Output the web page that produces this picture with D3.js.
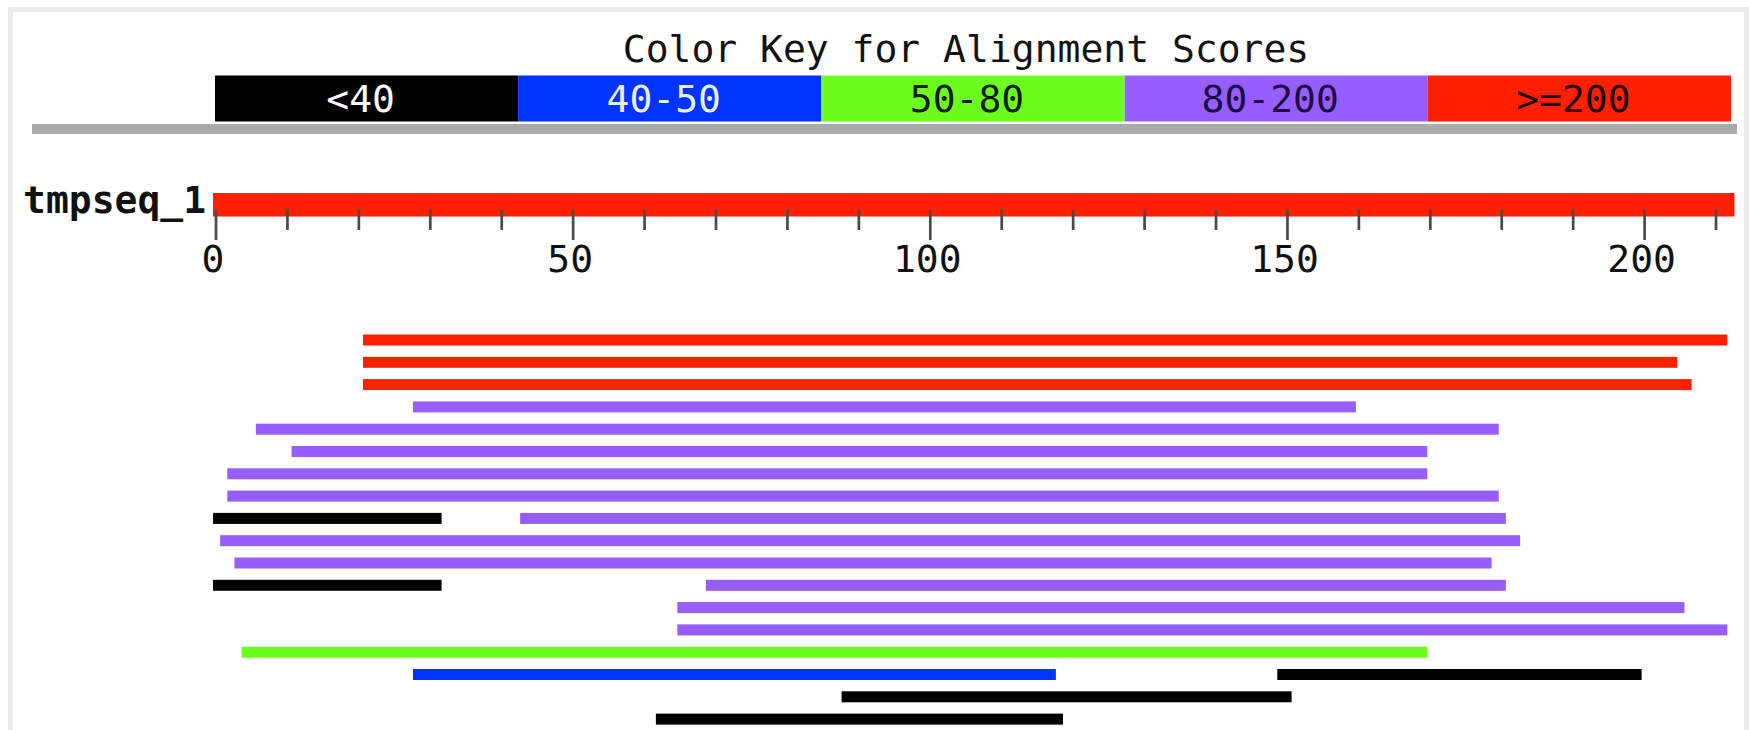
<!DOCTYPE html>
<html>
<head>
<meta charset="utf-8">
<script src="https://cdn.jsdelivr.net/npm/d3@7/dist/d3.min.js"></script>
<style>
  html, body { margin: 0; padding: 0; background: #ffffff; }
  svg { display: block; }
  text { font-family: "DejaVu Sans Mono", "Liberation Mono", monospace; }
</style>
</head>
<body>
<div id="chart"></div>
<script>
// Score bins of the colour key
const keyLabels     = ["<40", "40-50", "50-80", "80-200", ">=200"];
const keyColors     = ["#000000", "#0033ff", "#6cff1e", "#965eff", "#ff2000"];
const keyTextColors = ["#ffffff", "#e8eeff", "#0a1a00", "#1a0a40", "#200000"];

// Query sequence
const queryName = "tmpseq_1";
const queryLength = 213;
const tickValues = [0, 10, 20, 30, 40, 50, 60, 70, 80, 90, 100, 110, 120, 130, 140, 150, 160, 170, 180, 190, 200, 210];
const tickLabels = [0, 50, 100, 150, 200];

// Alignment hits: row, query start, query end, score bin (index into keyLabels)
const hitRow   = [0,   1,   2,   3,   4,   5,   6,   7,   8,   8,   9,   10,  11,  11,  12,  13,  14,  15,  15,  16,  17];
const hitStart = [21,  21,  21,  28,  6,   11,  2,   2,   0,   43,  1,   3,   0,   69,  65,  65,  4,   28,  149, 88,  62];
const hitEnd   = [212, 205, 207, 160, 180, 170, 170, 180, 32,  181, 183, 179, 32,  181, 206, 212, 170, 118, 200, 151, 119];
const hitBin   = [4,   4,   4,   3,   3,   3,   3,   3,   0,   3,   3,   3,   0,   3,   3,   3,   2,   1,   0,   0,   0];

const W = 1749, H = 730;
const svg = d3.select("#chart").append("svg")
  .attr("width", W).attr("height", H);

svg.append("rect").attr("width", W).attr("height", H).attr("fill", "#ffffff");

// outer frame
svg.append("rect")
  .attr("x", 10.5).attr("y", 9.5)
  .attr("width", 1736).attr("height", 900)
  .attr("fill", "none").attr("stroke", "#ebebeb").attr("stroke-width", 5);

const fontSize = 38;

// title
svg.append("text")
  .attr("x", 966).attr("y", 62)
  .attr("text-anchor", "middle")
  .attr("font-size", fontSize)
  .attr("fill", "#111")
  .text("Color Key for Alignment Scores");

// colour key
const keyX = d3.scaleBand().domain(keyLabels).range([215, 1731]);
const keyG = svg.append("g");
keyG.selectAll("rect").data(keyLabels).join("rect")
  .attr("x", d => keyX(d))
  .attr("y", 75.5)
  .attr("width", keyX.bandwidth())
  .attr("height", 46)
  .attr("fill", (d, i) => keyColors[i]);
keyG.selectAll("text").data(keyLabels).join("text")
  .attr("x", d => keyX(d) + keyX.bandwidth() / 2 - 6)
  .attr("y", 112)
  .attr("text-anchor", "middle")
  .attr("font-size", fontSize)
  .attr("fill", (d, i) => keyTextColors[i])
  .text(d => d);

// separator under the key
svg.append("rect")
  .attr("x", 32).attr("y", 124)
  .attr("width", 1705).attr("height", 10)
  .attr("fill", "#aaaaaa");

// query scale
const x = d3.scaleLinear().domain([0, queryLength]).range([213, 213 + queryLength * 7.143]);

svg.append("text")
  .attr("x", 23).attr("y", 213)
  .attr("font-size", fontSize)
  .attr("font-weight", "bold")
  .attr("fill", "#111")
  .text(queryName);

svg.append("rect")
  .attr("x", x(0)).attr("y", 193)
  .attr("width", x(queryLength) - x(0)).attr("height", 23.5)
  .attr("fill", keyColors[4]);

// ruler ticks
svg.append("g").selectAll("line").data(tickValues).join("line")
  .attr("x1", d => x(d) + 3).attr("x2", d => x(d) + 3)
  .attr("y1", 210)
  .attr("y2", d => tickLabels.includes(d) ? 240 : 230)
  .attr("stroke", "#4a4a4a").attr("stroke-width", 2.7);

svg.append("g").selectAll("text").data(tickLabels).join("text")
  .attr("x", d => x(d))
  .attr("y", 272)
  .attr("text-anchor", "middle")
  .attr("font-size", fontSize)
  .attr("fill", "#111")
  .text(d => d);

// hits
const rowY = d3.scaleLinear().domain([0, 1]).range([340, 362.3]);
const barH = 11;
svg.append("g").selectAll("rect").data(hitRow.map((r, i) => i)).join("rect")
  .attr("x", i => x(hitStart[i]))
  .attr("y", i => rowY(hitRow[i]) - barH / 2)
  .attr("width", i => x(hitEnd[i]) - x(hitStart[i]))
  .attr("height", barH)
  .attr("fill", i => keyColors[hitBin[i]]);
</script>
</body>
</html>
